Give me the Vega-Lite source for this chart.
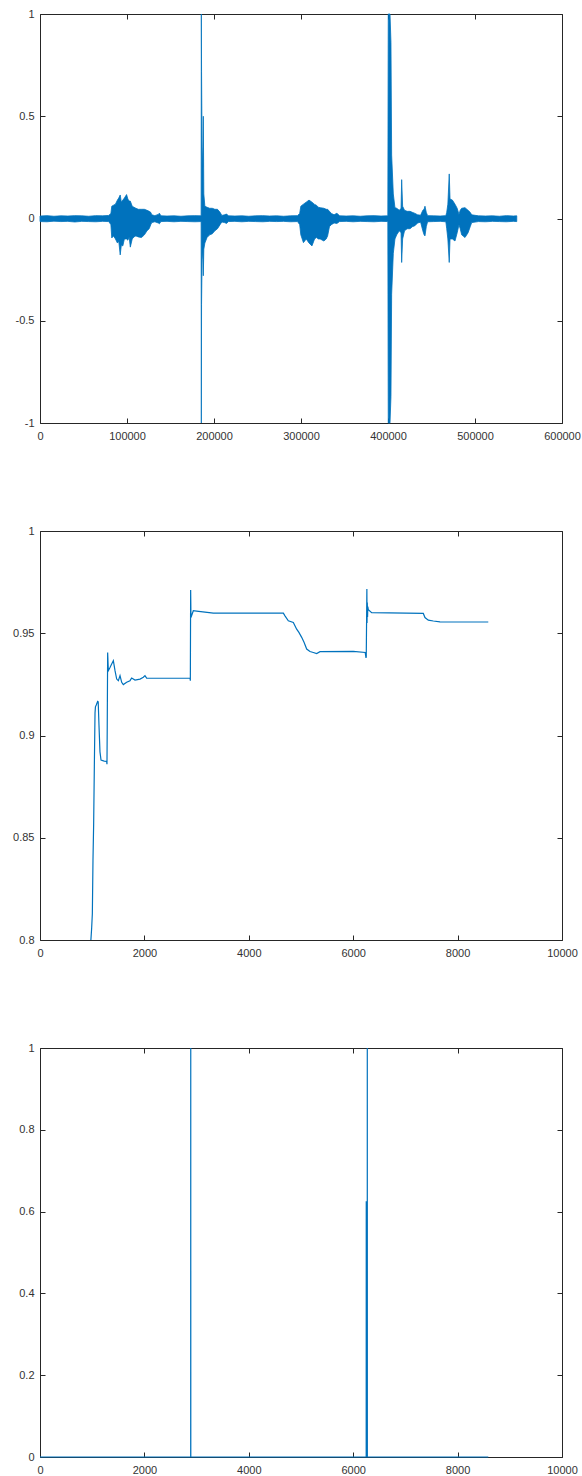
{
  "$schema": "https://vega.github.io/schema/vega-lite/v6.json",
  "padding": {"left": 12, "top": 7, "right": 0, "bottom": 0},
  "spacing": 82,
  "background": "white",
  "config": {
    "view": {"stroke": "#262626", "strokeWidth": 1},
    "axis": {"domain": false, "grid": false, "ticks": true, "tickColor": "#262626", "tickSize": -5, "tickWidth": 1, "labelPadding": 11, "labelFont": "Liberation Sans", "labelFontSize": 11, "labelColor": "#333333", "labelFlush": false, "labelOverlap": false, "labelBound": false},
    "axisBottom": {"labelPadding": 12}
  },
  "datasets": {
    "wave": [
      {"x": 0, "lo": -0.015, "hi": 0.012}, {"x": 8000, "lo": -0.016, "hi": 0.014}, {"x": 16000, "lo": -0.013, "hi": 0.011}, {"x": 24000, "lo": -0.015, "hi": 0.013}, {"x": 32000, "lo": -0.014, "hi": 0.012}, {"x": 40000, "lo": -0.017, "hi": 0.014}, {"x": 48000, "lo": -0.014, "hi": 0.013}, {"x": 56000, "lo": -0.015, "hi": 0.011}, {"x": 64000, "lo": -0.016, "hi": 0.014}, {"x": 72000, "lo": -0.014, "hi": 0.013}, {"x": 79000, "lo": -0.015, "hi": 0.015},
      {"x": 81500, "lo": -0.03, "hi": 0.025}, {"x": 82500, "lo": -0.095, "hi": 0.06}, {"x": 84500, "lo": -0.085, "hi": 0.065}, {"x": 86700, "lo": -0.1, "hi": 0.07}, {"x": 89000, "lo": -0.12, "hi": 0.09}, {"x": 90500, "lo": -0.11, "hi": 0.1}, {"x": 92200, "lo": -0.178, "hi": 0.115}, {"x": 93500, "lo": -0.13, "hi": 0.08}, {"x": 95200, "lo": -0.134, "hi": 0.09}, {"x": 97000, "lo": -0.1, "hi": 0.1}, {"x": 99500, "lo": -0.1, "hi": 0.117}, {"x": 101000, "lo": -0.106, "hi": 0.095}, {"x": 102500, "lo": -0.09, "hi": 0.085}, {"x": 103800, "lo": -0.14, "hi": 0.085}, {"x": 106000, "lo": -0.1, "hi": 0.06}, {"x": 108000, "lo": -0.09, "hi": 0.055}, {"x": 110200, "lo": -0.085, "hi": 0.05}, {"x": 113000, "lo": -0.09, "hi": 0.045}, {"x": 116600, "lo": -0.093, "hi": 0.045}, {"x": 120000, "lo": -0.08, "hi": 0.045}, {"x": 123000, "lo": -0.06, "hi": 0.04}, {"x": 125500, "lo": -0.05, "hi": 0.035}, {"x": 127300, "lo": -0.03, "hi": 0.03}, {"x": 128500, "lo": -0.02, "hi": 0.018}, {"x": 132000, "lo": -0.016, "hi": 0.014}, {"x": 136000, "lo": -0.022, "hi": 0.02}, {"x": 137200, "lo": -0.026, "hi": 0.026}, {"x": 139000, "lo": -0.015, "hi": 0.013},
      {"x": 146000, "lo": -0.014, "hi": 0.012}, {"x": 154000, "lo": -0.016, "hi": 0.013}, {"x": 162000, "lo": -0.014, "hi": 0.011}, {"x": 170000, "lo": -0.015, "hi": 0.013}, {"x": 178000, "lo": -0.016, "hi": 0.014}, {"x": 185200, "lo": -0.015, "hi": 0.013},
      {"x": 185450, "lo": -1, "hi": 1}, {"x": 185700, "lo": -0.42, "hi": 0.72}, {"x": 186300, "lo": -0.2, "hi": 0.35}, {"x": 187000, "lo": -0.15, "hi": 0.25}, {"x": 187700, "lo": -0.28, "hi": 0.5}, {"x": 188300, "lo": -0.15, "hi": 0.12}, {"x": 189500, "lo": -0.12, "hi": 0.06}, {"x": 192000, "lo": -0.093, "hi": 0.055}, {"x": 195000, "lo": -0.08, "hi": 0.05}, {"x": 198000, "lo": -0.075, "hi": 0.05}, {"x": 201000, "lo": -0.06, "hi": 0.045}, {"x": 204000, "lo": -0.05, "hi": 0.045}, {"x": 207000, "lo": -0.03, "hi": 0.03}, {"x": 209000, "lo": -0.017, "hi": 0.015}, {"x": 212000, "lo": -0.02, "hi": 0.018}, {"x": 214500, "lo": -0.024, "hi": 0.022}, {"x": 216500, "lo": -0.015, "hi": 0.013},
      {"x": 224000, "lo": -0.014, "hi": 0.012}, {"x": 232000, "lo": -0.016, "hi": 0.013}, {"x": 240000, "lo": -0.014, "hi": 0.011}, {"x": 248000, "lo": -0.015, "hi": 0.013}, {"x": 256000, "lo": -0.016, "hi": 0.014}, {"x": 264000, "lo": -0.014, "hi": 0.012}, {"x": 272000, "lo": -0.015, "hi": 0.013}, {"x": 280000, "lo": -0.014, "hi": 0.011}, {"x": 288000, "lo": -0.016, "hi": 0.013}, {"x": 296000, "lo": -0.015, "hi": 0.014},
      {"x": 298500, "lo": -0.03, "hi": 0.025}, {"x": 299800, "lo": -0.08, "hi": 0.06}, {"x": 302800, "lo": -0.118, "hi": 0.07}, {"x": 306000, "lo": -0.1, "hi": 0.08}, {"x": 309200, "lo": -0.12, "hi": 0.09}, {"x": 312600, "lo": -0.134, "hi": 0.08}, {"x": 315600, "lo": -0.1, "hi": 0.069}, {"x": 317700, "lo": -0.093, "hi": 0.065}, {"x": 320000, "lo": -0.1, "hi": 0.055}, {"x": 322000, "lo": -0.1, "hi": 0.053}, {"x": 326300, "lo": -0.11, "hi": 0.05}, {"x": 329000, "lo": -0.1, "hi": 0.045}, {"x": 330600, "lo": -0.085, "hi": 0.045}, {"x": 332700, "lo": -0.04, "hi": 0.035}, {"x": 334900, "lo": -0.03, "hi": 0.025}, {"x": 338000, "lo": -0.022, "hi": 0.018}, {"x": 341300, "lo": -0.024, "hi": 0.026}, {"x": 344300, "lo": -0.015, "hi": 0.013},
      {"x": 352000, "lo": -0.014, "hi": 0.012}, {"x": 360000, "lo": -0.016, "hi": 0.013}, {"x": 368000, "lo": -0.014, "hi": 0.011}, {"x": 376000, "lo": -0.015, "hi": 0.013}, {"x": 384000, "lo": -0.016, "hi": 0.014}, {"x": 392000, "lo": -0.014, "hi": 0.012}, {"x": 399800, "lo": -0.015, "hi": 0.013},
      {"x": 400300, "lo": -1, "hi": 1}, {"x": 402300, "lo": -1, "hi": 1}, {"x": 403400, "lo": -0.87, "hi": 0.86}, {"x": 404200, "lo": -0.37, "hi": 0.31}, {"x": 406100, "lo": -0.17, "hi": 0.12}, {"x": 408000, "lo": -0.1, "hi": 0.053}, {"x": 410000, "lo": -0.08, "hi": 0.05}, {"x": 413000, "lo": -0.06, "hi": 0.04}, {"x": 415000, "lo": -0.07, "hi": 0.05}, {"x": 415700, "lo": -0.215, "hi": 0.19}, {"x": 416800, "lo": -0.1, "hi": 0.06}, {"x": 419000, "lo": -0.06, "hi": 0.04}, {"x": 422000, "lo": -0.05, "hi": 0.035}, {"x": 425300, "lo": -0.05, "hi": 0.035}, {"x": 428000, "lo": -0.04, "hi": 0.03}, {"x": 431000, "lo": -0.035, "hi": 0.025}, {"x": 434000, "lo": -0.022, "hi": 0.018}, {"x": 437500, "lo": -0.018, "hi": 0.016}, {"x": 440000, "lo": -0.06, "hi": 0.04}, {"x": 441500, "lo": -0.08, "hi": 0.045}, {"x": 442500, "lo": -0.085, "hi": 0.06}, {"x": 444000, "lo": -0.04, "hi": 0.03}, {"x": 445500, "lo": -0.016, "hi": 0.014},
      {"x": 452000, "lo": -0.015, "hi": 0.013}, {"x": 460000, "lo": -0.014, "hi": 0.012}, {"x": 466500, "lo": -0.016, "hi": 0.014},
      {"x": 467500, "lo": -0.05, "hi": 0.03}, {"x": 468800, "lo": -0.1, "hi": 0.07}, {"x": 470400, "lo": -0.215, "hi": 0.218}, {"x": 471300, "lo": -0.1, "hi": 0.095}, {"x": 474000, "lo": -0.1, "hi": 0.09}, {"x": 477000, "lo": -0.11, "hi": 0.07}, {"x": 479500, "lo": -0.07, "hi": 0.05}, {"x": 481600, "lo": -0.03, "hi": 0.02}, {"x": 483000, "lo": -0.05, "hi": 0.04}, {"x": 484700, "lo": -0.08, "hi": 0.05}, {"x": 488500, "lo": -0.093, "hi": 0.053}, {"x": 492000, "lo": -0.07, "hi": 0.04}, {"x": 494500, "lo": -0.04, "hi": 0.03}, {"x": 496200, "lo": -0.02, "hi": 0.018},
      {"x": 504000, "lo": -0.015, "hi": 0.013}, {"x": 512000, "lo": -0.016, "hi": 0.012}, {"x": 520000, "lo": -0.014, "hi": 0.013}, {"x": 528000, "lo": -0.015, "hi": 0.011}, {"x": 536000, "lo": -0.016, "hi": 0.014}, {"x": 544000, "lo": -0.014, "hi": 0.012}, {"x": 548000, "lo": -0.015, "hi": 0.013}
    ],
    "prob": [
      {"x": 975, "v": 0.8}, {"x": 990, "v": 0.806}, {"x": 1003, "v": 0.813}, {"x": 1015, "v": 0.839}, {"x": 1028, "v": 0.857}, {"x": 1041, "v": 0.885}, {"x": 1054, "v": 0.911}, {"x": 1062, "v": 0.914}, {"x": 1080, "v": 0.915}, {"x": 1104, "v": 0.9167}, {"x": 1115, "v": 0.9165}, {"x": 1130, "v": 0.905}, {"x": 1149, "v": 0.892}, {"x": 1169, "v": 0.888}, {"x": 1230, "v": 0.8875}, {"x": 1277, "v": 0.8873}, {"x": 1283, "v": 0.886}, {"x": 1288, "v": 0.904}, {"x": 1296, "v": 0.9406},
      {"x": 1309, "v": 0.9317}, {"x": 1341, "v": 0.9333}, {"x": 1373, "v": 0.935}, {"x": 1405, "v": 0.9366}, {"x": 1437, "v": 0.9317}, {"x": 1469, "v": 0.9276}, {"x": 1501, "v": 0.9268}, {"x": 1533, "v": 0.9293}, {"x": 1565, "v": 0.926}, {"x": 1596, "v": 0.9249}, {"x": 1660, "v": 0.926}, {"x": 1724, "v": 0.9268}, {"x": 1756, "v": 0.9281}, {"x": 1820, "v": 0.9271}, {"x": 1916, "v": 0.9276}, {"x": 1980, "v": 0.9285}, {"x": 2011, "v": 0.9293}, {"x": 2043, "v": 0.9281}, {"x": 2874, "v": 0.928}, {"x": 2880, "v": 0.9268},
      {"x": 2886, "v": 0.9711}, {"x": 2892, "v": 0.9577}, {"x": 2937, "v": 0.961}, {"x": 3000, "v": 0.9608}, {"x": 3321, "v": 0.9598}, {"x": 4662, "v": 0.9598}, {"x": 4693, "v": 0.9585}, {"x": 4757, "v": 0.9561}, {"x": 4853, "v": 0.9553}, {"x": 4917, "v": 0.952}, {"x": 4960, "v": 0.9504}, {"x": 5013, "v": 0.948}, {"x": 5060, "v": 0.9455}, {"x": 5109, "v": 0.9423}, {"x": 5172, "v": 0.9411}, {"x": 5236, "v": 0.9406}, {"x": 5300, "v": 0.9401}, {"x": 5364, "v": 0.941}, {"x": 6002, "v": 0.9411}, {"x": 6230, "v": 0.9406}, {"x": 6245, "v": 0.9379}, {"x": 6250, "v": 0.9385},
      {"x": 6262, "v": 0.9716}, {"x": 6265, "v": 0.955}, {"x": 6270, "v": 0.965}, {"x": 6275, "v": 0.958}, {"x": 6280, "v": 0.963}, {"x": 6290, "v": 0.9615}, {"x": 6354, "v": 0.9601}, {"x": 7343, "v": 0.9597}, {"x": 7375, "v": 0.9577}, {"x": 7439, "v": 0.9564}, {"x": 7535, "v": 0.956}, {"x": 7663, "v": 0.9556}, {"x": 8588, "v": 0.9555}
    ],
    "flag": [
      {"x": 0, "v": 0}, {"x": 2887, "v": 0}, {"x": 2888, "v": 1}, {"x": 2889, "v": 0}, {"x": 6249, "v": 0}, {"x": 6250, "v": 0.625}, {"x": 6251, "v": 0}, {"x": 6269, "v": 0}, {"x": 6270, "v": 1}, {"x": 6271, "v": 0}, {"x": 8588, "v": 0}
    ]
  },
  "vconcat": [
    {
      "width": 522, "height": 409,
      "data": {"name": "wave"},
      "layer": [
        {
          "mark": {"type": "area", "color": "#0072BD", "stroke": "#0072BD", "strokeWidth": 0.8, "opacity": 1},
          "encoding": {
            "x": {"field": "x", "type": "quantitative", "title": null, "scale": {"domain": [0, 600000], "nice": false}, "axis": {"orient": "bottom", "values": [0, 100000, 200000, 300000, 400000, 500000, 600000], "labelExpr": "datum.value + ''"}},
            "y": {"field": "hi", "type": "quantitative", "title": null, "scale": {"domain": [-1, 1], "nice": false}, "axis": {"orient": "left", "values": [-1, -0.5, 0, 0.5, 1], "labelExpr": "datum.value + ''"}},
            "y2": {"field": "lo"}
          }
        },
        {
          "mark": {"type": "point", "opacity": 0},
          "encoding": {
            "x": {"field": "x", "type": "quantitative", "title": null, "scale": {"domain": [0, 600000], "nice": false}, "axis": {"orient": "top", "labels": false, "values": [0, 100000, 200000, 300000, 400000, 500000, 600000]}},
            "y": {"field": "hi", "type": "quantitative", "title": null, "scale": {"domain": [-1, 1], "nice": false}, "axis": {"orient": "right", "labels": false, "values": [-1, -0.5, 0, 0.5, 1]}}
          }
        }
      ],
      "resolve": {"scale": {"x": "independent", "y": "independent"}}
    },
    {
      "width": 522, "height": 409,
      "data": {"name": "prob"},
      "layer": [
        {
          "mark": {"type": "line", "color": "#0072BD", "strokeWidth": 1.2},
          "encoding": {
            "x": {"field": "x", "type": "quantitative", "title": null, "scale": {"domain": [0, 10000], "nice": false}, "axis": {"orient": "bottom", "values": [0, 2000, 4000, 6000, 8000, 10000], "labelExpr": "datum.value + ''"}},
            "y": {"field": "v", "type": "quantitative", "title": null, "scale": {"domain": [0.8, 1], "nice": false, "zero": false}, "axis": {"orient": "left", "values": [0.8, 0.85, 0.9, 0.95, 1], "labelExpr": "datum.value + ''"}}
          }
        },
        {
          "mark": {"type": "point", "opacity": 0},
          "encoding": {
            "x": {"field": "x", "type": "quantitative", "title": null, "scale": {"domain": [0, 10000], "nice": false}, "axis": {"orient": "top", "labels": false, "values": [0, 2000, 4000, 6000, 8000, 10000]}},
            "y": {"field": "v", "type": "quantitative", "title": null, "scale": {"domain": [0.8, 1], "nice": false, "zero": false}, "axis": {"orient": "right", "labels": false, "values": [0.8, 0.85, 0.9, 0.95, 1]}}
          }
        }
      ],
      "resolve": {"scale": {"x": "independent", "y": "independent"}}
    },
    {
      "width": 522, "height": 409,
      "data": {"name": "flag"},
      "layer": [
        {
          "mark": {"type": "line", "color": "#0072BD", "strokeWidth": 1.2, "clip": false},
          "encoding": {
            "x": {"field": "x", "type": "quantitative", "title": null, "scale": {"domain": [0, 10000], "nice": false}, "axis": {"orient": "bottom", "values": [0, 2000, 4000, 6000, 8000, 10000], "labelExpr": "datum.value + ''"}},
            "y": {"field": "v", "type": "quantitative", "title": null, "scale": {"domain": [0, 1], "nice": false}, "axis": {"orient": "left", "values": [0, 0.2, 0.4, 0.6, 0.8, 1], "labelExpr": "datum.value + ''"}}
          }
        },
        {
          "mark": {"type": "point", "opacity": 0},
          "encoding": {
            "x": {"field": "x", "type": "quantitative", "title": null, "scale": {"domain": [0, 10000], "nice": false}, "axis": {"orient": "top", "labels": false, "values": [0, 2000, 4000, 6000, 8000, 10000]}},
            "y": {"field": "v", "type": "quantitative", "title": null, "scale": {"domain": [0, 1], "nice": false}, "axis": {"orient": "right", "labels": false, "values": [0, 0.2, 0.4, 0.6, 0.8, 1]}}
          }
        }
      ],
      "resolve": {"scale": {"x": "independent", "y": "independent"}}
    }
  ]
}
